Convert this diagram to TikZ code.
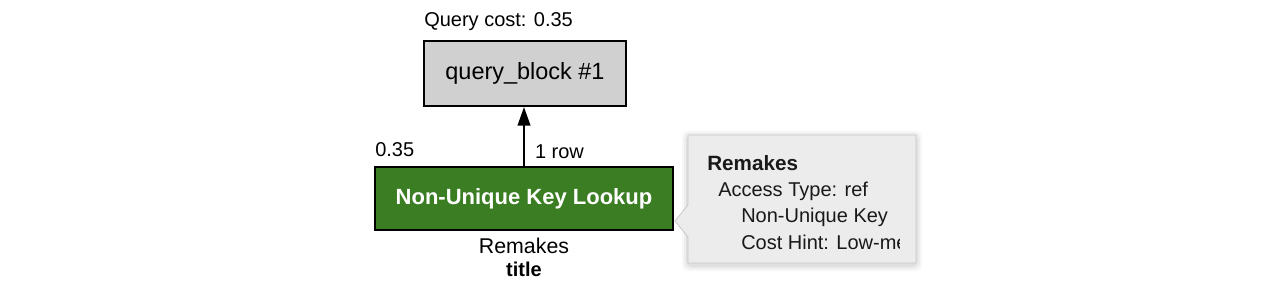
\documentclass[tikz,border=0pt]{standalone}
\usepackage{fontspec}
\setmainfont{Liberation Sans}
\usetikzlibrary{arrows.meta}
\definecolor{opgreen}{HTML}{3B7D23}
\definecolor{qbgray}{HTML}{D0D0D0}
\definecolor{tipfill}{HTML}{ECECEC}
\definecolor{tipedge}{HTML}{C8C8C8}
\tikzset{
  lbl/.style={font=\fontsize{15}{18}\selectfont, inner sep=0pt},
  qbbox/.style={draw=black, line width=1.5pt, fill=qbgray, minimum width=151.5pt, minimum height=48.75pt, inner sep=0pt, font=\fontsize{17.6}{20}\selectfont},
  opbox/.style={draw=black, line width=1.5pt, fill=opgreen, minimum width=223.5pt, minimum height=47.25pt, inner sep=0pt, text=white, font=\bfseries\fontsize{16.5}{20}\selectfont},
  tiptxt/.style={font=\fontsize{15}{18}\selectfont, inner sep=0pt, anchor=west, text=black!90},
  conn/.style={line width=1.5pt, -{Triangle[length=14pt, width=9.5pt]}}
}
\begin{document}
\begin{tikzpicture}[x=0.75pt, y=-0.75pt]
\useasboundingbox (0,0) rectangle (1280,292);
\fill[white] (0,0) rectangle (1280,292);

% query block
\node[qbbox] (qb) at (525,73.5) {query\_block \#1};
\node[lbl, anchor=west] (qcost) at (424,22) {Query cost: 0.35};

% operation
\node[opbox] (op) at (524,198.5) {Non-Unique Key Lookup};
\node[lbl, anchor=west] (cost) at (375,150) {0.35};
\node[lbl, font=\fontsize{16}{18}\selectfont] (tbl) at (524,246) {Remakes};
\node[lbl, font=\bfseries\fontsize{15}{18}\selectfont] (col) at (524,269) {title};

% connector
\coordinate (qbin) at (op.north |- qb.south);
\draw[conn] (op.north) -- (qbin) node[pos=0.25, right=7.5pt, lbl, anchor=west] (rows) {1 row};

% tooltip shadow
\foreach \d/\o in {6/0.03,4/0.04,2/0.05}{
  \fill[black, opacity=\o, rounded corners=4pt] (688-\d,135-\d+2) rectangle (916+\d,263+\d+2);
}
\fill[tipfill] (688,135) -- (916,135) -- (916,263) -- (688,263) -- (688,237) -- (675,221) -- (688,205) -- cycle;
\draw[tipedge, line width=0.6pt] (688,205) -- (688,135) -- (916,135) -- (916,263) -- (688,263) -- (688,237) -- (675,221) -- cycle;

\node[tiptxt, font=\bfseries\fontsize{15.5}{18}\selectfont] (t1) at (707,163) {Remakes};
\node[tiptxt] (t2) at (718,191) {Access Type: ref};
\begin{scope}
\clip (690,136) rectangle (899,262);
\node[tiptxt] (t3) at (741,217) {Non-Unique Key};
\node[tiptxt] (t4) at (741,242) {Cost Hint: Low-medium};
\end{scope}
\end{tikzpicture}
\end{document}
